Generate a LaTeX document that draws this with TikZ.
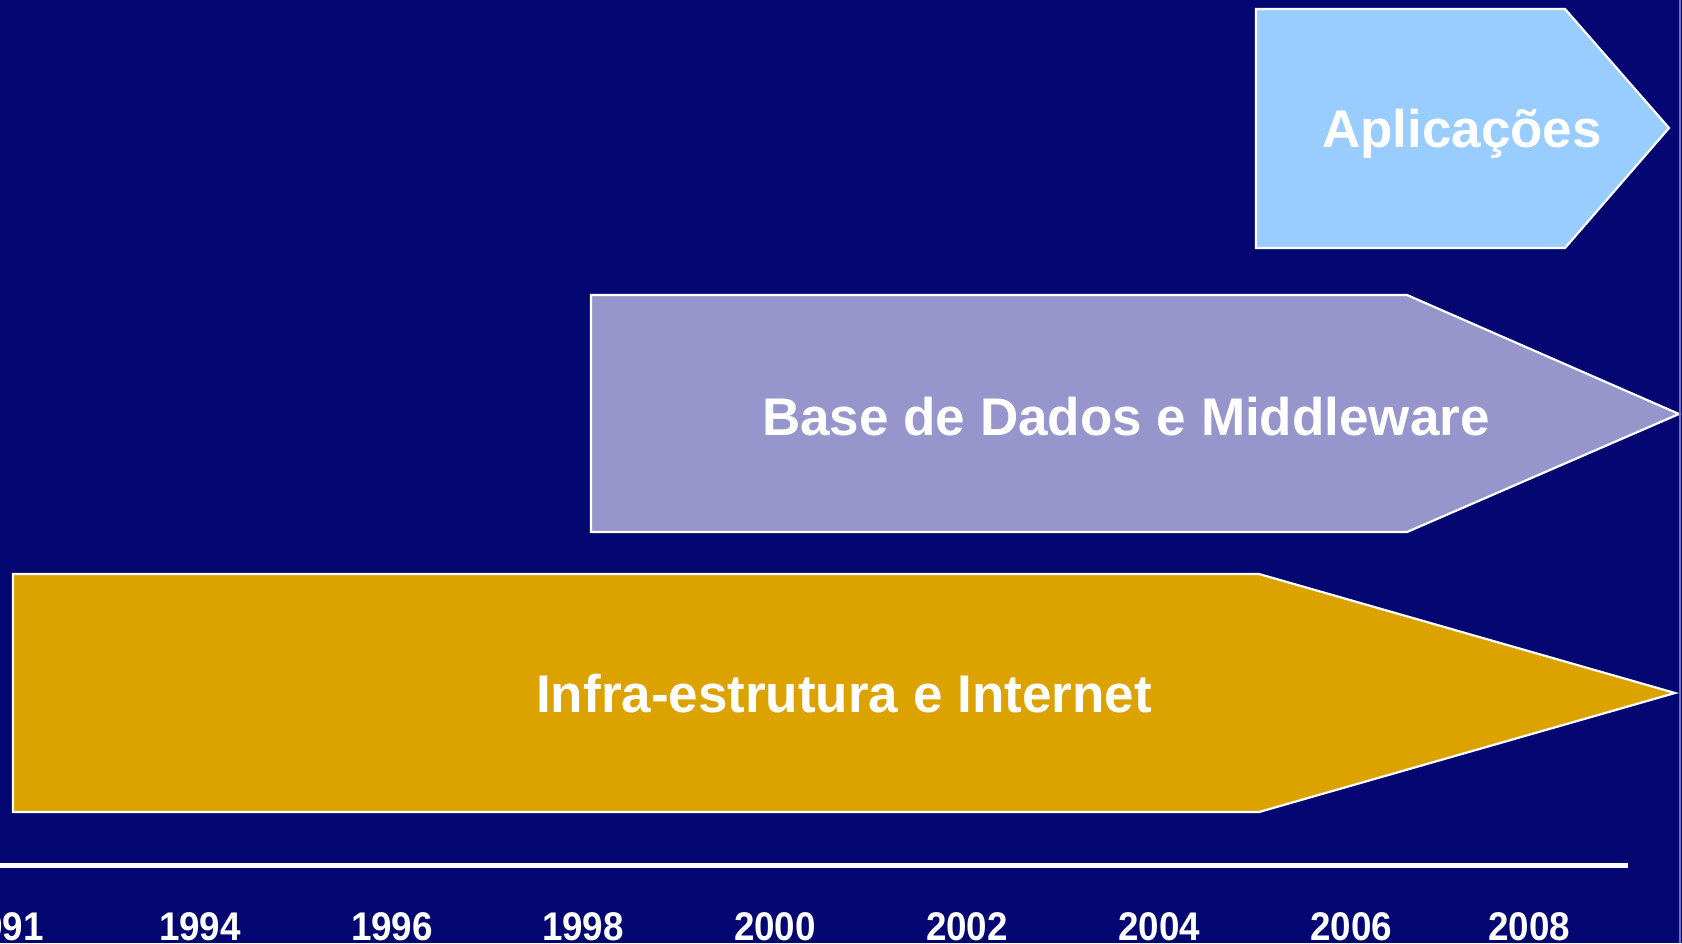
\documentclass[tikz,border=0pt]{standalone}
\usepackage{fontspec}
\setmainfont{Liberation Sans}
\definecolor{bg}{RGB}{4,7,114}
\definecolor{appfill}{RGB}{153,204,255}
\definecolor{dbfill}{RGB}{150,150,204}
\definecolor{infrafill}{RGB}{220,162,0}
\definecolor{edge}{RGB}{110,110,190}
\begin{document}
\begin{tikzpicture}[x=1pt,y=-1pt,
  band/.style={draw=white,line width=2.2pt,line join=miter},
  bandlabel/.style={text=white,font=\bfseries\fontsize{53}{60}\selectfont,inner sep=0pt,anchor=center},
  year/.style={text=white,font=\bfseries\fontsize{40}{44}\selectfont,inner sep=0pt,anchor=base,xscale=0.92}]
\fill[bg] (0,0) rectangle (1682,943);
\useasboundingbox (0,0) rectangle (1682,943);
% bands
\filldraw[band,fill=appfill] (1256,9) -- (1565,9) -- (1669,128) -- (1565,248) -- (1256,248) -- cycle;
\filldraw[band,fill=dbfill] (591,295) -- (1407,295) -- (1679,414) -- (1407,532) -- (591,532) -- cycle;
\filldraw[band,fill=infrafill] (13,574) -- (1259,574) -- (1675,693) -- (1259,812) -- (13,812) -- cycle;
% labels
\node[bandlabel] (app) at (1462,134) {Aplicações};
\node[bandlabel] (db) at (1126,417) {Base de Dados e Middleware};
\node[bandlabel] (infra) at (844,694) {Infra-estrutura e Internet};
% timeline
\draw[white,line width=5pt] (0,865) -- (1628,865);
\draw[edge,line width=2pt] (1680,0) -- (1680,943);
% years
\node[year] (y1991) at (3,940) {1991};
\node[year] (y1994) at (200,940) {1994};
\node[year] (y1996) at (392,940) {1996};
\node[year] (y1998) at (583,940) {1998};
\node[year] (y2000) at (775,940) {2000};
\node[year] (y2002) at (967,940) {2002};
\node[year] (y2004) at (1159,940) {2004};
\node[year] (y2006) at (1351,940) {2006};
\node[year] (y2008) at (1529,940) {2008};
\end{tikzpicture}
\end{document}
